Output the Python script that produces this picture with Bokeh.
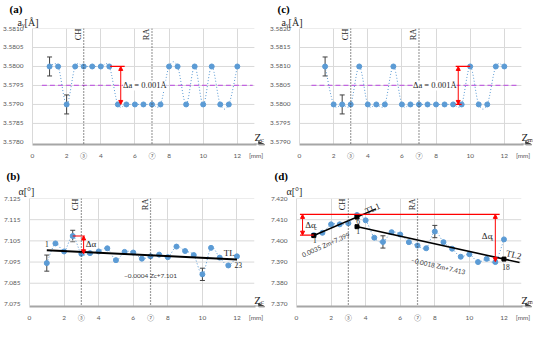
import math
from bokeh.plotting import figure
from bokeh.layouts import column, row
from bokeh.models import (Range1d, FixedTicker, NumeralTickFormatter, Span, Label, Title,
                          Arrow, NormalHead, Whisker, TeeHead, ColumnDataSource)
from bokeh.embed import file_html
from bokeh.resources import INLINE

# ---------------- data ----------------
z_a = [1.0, 1.5, 2.0, 2.5, 3.0, 3.5, 4.0, 4.5, 5.0, 5.5, 6.0, 6.5, 7.0, 7.5,
       8.0, 8.5, 9.0, 9.5, 10.0, 10.5, 11.0, 11.5, 12.0]
ay_a = [3.580, 3.580, 3.579, 3.580, 3.580, 3.580, 3.580, 3.580, 3.579, 3.579,
        3.579, 3.579, 3.579, 3.579, 3.580, 3.580, 3.579, 3.580, 3.579, 3.580,
        3.579, 3.579, 3.580]
err_a_z = [1.0, 2.0]
err_a_v = [3.580, 3.579]
err_a_e = [0.00025, 0.00025]

z_c = [1.5, 2.0, 2.5, 3.0, 3.5, 4.0, 4.5, 5.0, 5.5, 6.0, 6.5, 7.0, 7.5,
       8.0, 8.5, 9.0, 9.5, 10.0, 10.5, 11.0, 11.5, 12.0]
ay_c = [3.581, 3.580, 3.580, 3.580, 3.581, 3.580, 3.580, 3.580, 3.581, 3.580,
        3.580, 3.580, 3.580, 3.580, 3.580, 3.580, 3.580, 3.581, 3.580, 3.580,
        3.581, 3.581]
err_c_z = [1.5, 2.5]
err_c_v = [3.581, 3.580]
err_c_e = [0.00025, 0.00025]

z_b = z_a
al_b = [7.0945, 7.1038, 7.1000, 7.1073, 7.0989, 7.0992, 7.1000, 7.1015, 7.0959,
        7.0998, 7.0995, 7.0966, 7.0977, 7.0985, 7.0973, 7.1023, 7.1002, 7.0983,
        7.0892, 7.1017, 7.0971, 7.0934, 7.0977]
err_b_z = [1.0, 2.5, 10.0]
err_b_v = [7.0945, 7.1073, 7.0892]
err_b_e = [0.0038, 0.0027, 0.0029]
tl_b = (-0.0004, 7.101)

z_d = z_a
al_d = [7.4027, 7.4038, 7.4078, 7.4078, 7.4083, 7.4122, 7.4097, 7.4015, 7.3995,
        7.4041, 7.4030, 7.3994, 7.3978, 7.3965, 7.4044, 7.3994, 7.3963, 7.3925,
        7.3937, 7.3900, 7.3915, 7.3900, 7.4007]
err_d_z = [5.0, 8.0]
err_d_v = [7.3995, 7.4044]
err_d_e = [0.0029, 0.0029]
tl_d1 = (0.0035, 7.399)
tl_d2 = (-0.0018, 7.413)

x_ticks = [0, 2, 3, 4, 6, 7, 8, 10, 12, 13.1]
x_tick_labels = ["0", "2", "③", "4", "6", "⑦", "8", "10", "12", "[mm]"]
grid_x = [2, 4, 6, 8, 10, 12]
yt_a = [3.578, 3.5785, 3.579, 3.5795, 3.580, 3.5805, 3.581]
yt_c = [3.579, 3.5795, 3.580, 3.5805, 3.581, 3.5815, 3.582]
yt_b = [7.075, 7.085, 7.095, 7.105, 7.115, 7.125]
yt_d = [7.370, 7.380, 7.390, 7.400, 7.410, 7.420]

# ---------------- styles ----------------
BLUE = "#5B9BD5"
RED = "#FF0000"
GRID = "#d9d9d9"
TXT = "#262626"
SERIF = "Liberation Serif"
SANS = "Lato"
XMAX = 13.65
W = 267


def make_fig(h, left, top, bottom, ylo, yhi, yticks, yfmt, letter, name, off_l, off_n,
             name_gap, letter_gap):
    fh = h - top - bottom
    pad = 2.2 * (yhi - ylo) / fh
    p = figure(width=W, height=h, x_range=Range1d(0, XMAX),
               y_range=Range1d(ylo - pad, yhi), title=None,
               output_backend="svg", toolbar_location=None,
               min_border_left=left, min_border_right=2,
               min_border_top=top, min_border_bottom=bottom)
    p.outline_line_color = None
    p.add_layout(Title(text=name, align="left", offset=off_n, standoff=name_gap,
                       text_font=SERIF, text_font_size="10px", text_font_style="normal",
                       text_color=TXT), "above")
    p.add_layout(Title(text=f"({letter})", align="left", offset=off_l, standoff=letter_gap,
                       text_font=SERIF, text_font_size="11px", text_font_style="bold",
                       text_color="black"), "above")
    p.xgrid.ticker = FixedTicker(ticks=grid_x)
    p.xgrid.grid_line_color = GRID
    p.ygrid.grid_line_color = None
    p.segment(x0=0, x1=13.0, y0=yticks[1:], y1=yticks[1:], line_color=GRID, line_width=1)
    xa = p.xaxis[0]
    xa.ticker = FixedTicker(ticks=x_ticks)
    xa.major_label_overrides = dict(zip(x_ticks, x_tick_labels))
    xa.axis_line_color = "#a6a6a6"
    xa.axis_line_width = 2
    xa.bounds = (0, 13.1)
    xa.major_tick_line_color = None
    xa.minor_tick_line_color = None
    xa.major_label_text_font = SANS
    xa.major_label_text_font_size = "6.5px"
    xa.major_label_text_color = "#595959"
    xa.major_label_standoff = 1
    ya = p.yaxis[0]
    ya.ticker = FixedTicker(ticks=yticks)
    ya.formatter = NumeralTickFormatter(format=yfmt)
    ya.axis_line_color = GRID
    ya.bounds = (ylo - pad, yhi)
    ya.major_tick_line_color = None
    ya.minor_tick_line_color = None
    ya.major_label_text_font = SANS
    ya.major_label_text_font_size = "6.5px"
    ya.major_label_text_color = "#595959"
    ya.major_label_standoff = 3
    p.add_layout(Arrow(end=NormalHead(size=6, fill_color="#404040", line_color="#404040"),
                       x_start=13.0, x_end=13.6, y_start=ylo - pad, y_end=ylo - pad,
                       line_color="#a6a6a6", line_width=2))
    return p


def txt(p, x, y, s, size, font=SERIF, align="left", baseline="middle", angle=0.0,
        color=TXT, bold=False, bg=None):
    lab = Label(x=x, y=y, text=s, text_font=font, text_font_size=f"{size}px",
                text_align=align, text_baseline=baseline, angle=angle, text_color=color,
                text_font_style="bold" if bold else "normal")
    if bg is not None:
        lab.background_fill_color = bg
    p.add_layout(lab)


def smooth_line(p, xs, ys):
    n = len(xs)
    d = dict(x0=[], y0=[], x1=[], y1=[], cx0=[], cy0=[], cx1=[], cy1=[])
    for i in range(n - 1):
        i0 = max(i - 1, 0)
        i3 = min(i + 2, n - 1)
        d["x0"].append(xs[i]); d["y0"].append(ys[i])
        d["x1"].append(xs[i + 1]); d["y1"].append(ys[i + 1])
        d["cx0"].append(xs[i] + (xs[i + 1] - xs[i0]) / 6)
        d["cy0"].append(ys[i] + (ys[i + 1] - ys[i0]) / 6)
        d["cx1"].append(xs[i + 1] - (xs[i3] - xs[i]) / 6)
        d["cy1"].append(ys[i + 1] - (ys[i3] - ys[i]) / 6)
    p.bezier(source=ColumnDataSource(d), x0="x0", y0="y0", x1="x1", y1="y1",
             cx0="cx0", cy0="cy0", cx1="cx1", cy1="cy1",
             line_color=BLUE, line_width=1, line_dash="1 2")
    p.scatter(xs, ys, size=5, color=BLUE)


def errbars(p, xs, ys, es):
    src = ColumnDataSource(dict(x=xs, lo=[y - e for y, e in zip(ys, es)],
                                hi=[y + e for y, e in zip(ys, es)]))
    p.add_layout(Whisker(source=src, base="x", lower="lo", upper="hi", dimension="height",
                         line_color="#404040", line_width=1,
                         lower_head=TeeHead(size=5, line_color="#404040", line_width=1),
                         upper_head=TeeHead(size=5, line_color="#404040", line_width=1)))


def red_arrow(p, x, y0, y1):
    p.add_layout(Arrow(start=NormalHead(size=4, fill_color=RED, line_color=RED),
                       end=NormalHead(size=4, fill_color=RED, line_color=RED),
                       x_start=x, y_start=y0, x_end=x, y_end=y1,
                       line_color=RED, line_width=1))


def markers_lines(p, yhi):
    for xloc, name in ((3, "CH"), (7, "RA")):
        p.add_layout(Span(location=xloc, dimension="height", line_color="#404040",
                          line_dash="1 2", line_width=1.2))
        lab = Label(x=xloc, y=yhi, text=name, text_font=SERIF, text_font_size="8.5px",
                    text_align="right", text_baseline="bottom", angle=math.pi / 2,
                    x_offset=-1, text_color=TXT)
        p.add_layout(lab)


def zlabel(p, c, sub, rx, ry):
    x, y = c(rx, ry)
    txt(p, 13.0, y, "Z", 11, baseline="alphabetic")
    x, y = c(rx + 6.3, ry + 2.5)
    txt(p, 13.37, y, sub, 7, baseline="alphabetic")


def calib(x0px, xs, y0px, ytop, ys):
    return lambda rx, ry: ((rx - x0px) / xs, ytop - (ry - y0px) / ys)


# ---------------- panel (a) ----------------
pa = make_fig(161, 24, 26, 15, 3.578, 3.581, yt_a, "0.0000", "a", "aᵧ[Å]", -23, -15, 1, 0)
ca = calib(31, 17.97, 34.3, 3.581, 38333)
markers_lines(pa, 3.581)
pa.segment(x0=[0.55], x1=[12.9], y0=[3.5795], y1=[3.5795], line_color="#c266e0",
           line_width=1.3, line_dash="5 3")
smooth_line(pa, z_a, ay_a)
errbars(pa, err_a_z, err_a_v, err_a_e)
pa.segment(x0=[4.55], x1=[5.4], y0=[3.580], y1=[3.580], line_color=RED, line_width=1.2)
red_arrow(pa, 5.17, 3.580, 3.579)
txt(pa, 5.3, 3.5795, "Δa = 0.001Å", 8.5, bg="white")
zlabel(pa, ca, "c", 267, 144)

# ---------------- panel (c) ----------------
pc = make_fig(161, 23, 26, 15, 3.579, 3.582, yt_c, "0.0000", "c", "aᵧ[Å]", -22, -18, 1, 0)
cc = calib(301, 17.9, 34.3, 3.582, 38333)
markers_lines(pc, 3.582)
pc.segment(x0=[0.7], x1=[12.8], y0=[3.5805], y1=[3.5805], line_color="#c266e0",
           line_width=1.3, line_dash="5 3")
smooth_line(pc, z_c, ay_c)
errbars(pc, err_c_z, err_c_v, err_c_e)
pc.segment(x0=[9.15, 9.15], x1=[10.0, 9.5], y0=[3.581, 3.580], y1=[3.581, 3.580],
           line_color=RED, line_width=1.2)
red_arrow(pc, 9.3, 3.580, 3.581)
txt(pc, 9.2, 3.5805, "Δa = 0.001Å", 8.5, align="right", bg="white")
zlabel(pc, cc, "m", 535, 144)

# ---------------- panel (b) ----------------
pb = make_fig(162, 24, 37, 13, 7.075, 7.125, yt_b, "0.000", "b", "α[°]", -23, -11, 3, 2)
cb = calib(31, 17.97, 211, 7.125, 2260)
markers_lines(pb, 7.125)
smooth_line(pb, z_b, al_b)
errbars(pb, err_b_z, err_b_v, err_b_e)
m, b = tl_b
pb.line([1.0, 12.0], [m * 1.0 + b, m * 12.0 + b], line_color="black", line_width=2)
pb.segment(x0=[2.5], x1=[3.2], y0=[7.1073], y1=[7.1073], line_color=RED, line_width=1.2)
red_arrow(pb, 3.13, 7.1073, 7.0989)
txt(pb, 3.25, 7.1033, "Δα", 9)
txt(pb, 1.0, 7.1036, "1", 7.5, align="center")
txt(pb, 11.55, 7.0995, "TL", 9, align="center")
txt(pb, 12.08, 7.0935, "23", 7.5, align="center")
txt(pb, 5.47, 7.0886, "−0.0004 Zc+7.101", 6.5, font=SANS, color="#404040")
zlabel(pb, cb, "c", 267, 319)

# ---------------- panel (d) ----------------
pd_ = make_fig(162, 23, 37, 13, 7.370, 7.420, yt_d, "0.000", "d", "α[°]", -22, -10, 3, 2)
cd = calib(301, 17.9, 210.7, 7.42, 2266)
markers_lines(pd_, 7.42)
smooth_line(pd_, z_d, al_d)
errbars(pd_, err_d_z, err_d_v, err_d_e)
m1, b1 = tl_d1
m2, b2 = tl_d2
pd_.line([1.0, 4.6], [m1 * 1.0 + b1, m1 * 4.6 + b1], line_color="black", line_width=1.6)
pd_.line([3.4, 12.9], [m2 * 3.4 + b2, m2 * 12.9 + b2], line_color="black", line_width=1.6)
pd_.scatter([1.0, 3.5, 3.5, 12.0],
            [m1 * 1.0 + b1, m1 * 3.5 + b1, m2 * 3.5 + b2, m2 * 12.0 + b2],
            marker="square", size=4, color="black")
pd_.segment(x0=[0.2, 0.2], x1=[11.75, 1.0], y0=[7.4125, 7.4027], y1=[7.4125, 7.4027],
            line_color=RED, line_width=1.2)
red_arrow(pd_, 0.35, 7.4125, 7.4027)
red_arrow(pd_, 11.5, 7.4125, 7.3902)
FW, FH = W - 23 - 2, 162 - 37 - 13
pxu_x = FW / XMAX
pxu_y = FH / 0.05
ang1 = math.atan(m1 * pxu_y / pxu_x)
ang2 = math.atan(m2 * pxu_y / pxu_x)
txt(pd_, 0.5, 7.4075, "Δα", 9)
txt(pd_, 1.02, 7.4062, "c", 6)
txt(pd_, 10.72, 7.4022, "Δα", 9)
txt(pd_, 11.24, 7.4009, "s", 6)
txt(pd_, 1.06, 7.4004, "1", 7.5, align="center")
txt(pd_, 3.56, 7.4094, "6", 7.5, align="center")
txt(pd_, 3.56, 7.4046, "1", 7.5, align="center")
txt(pd_, 12.12, 7.3878, "18", 7.5, align="center")
txt(pd_, 4.4, 7.4152, "TL1", 9, align="center", angle=ang1)
txt(pd_, 12.57, 7.3934, "TL2", 9, align="center", angle=ang2)
txt(pd_, 1.7, 7.3982, "0.0035 Zm+7.399", 6.5, font=SANS, align="center", angle=ang1,
    color="#404040")
txt(pd_, 8.2, 7.3881, "−0.0018 Zm+7.413", 6.5, font=SANS, align="center", angle=ang2,
    color="#404040")
zlabel(pd_, cd, "m", 535, 319)

layout = column(row(pa, pc), row(pb, pd_))
open("out.html", "w").write(file_html(layout, INLINE))
